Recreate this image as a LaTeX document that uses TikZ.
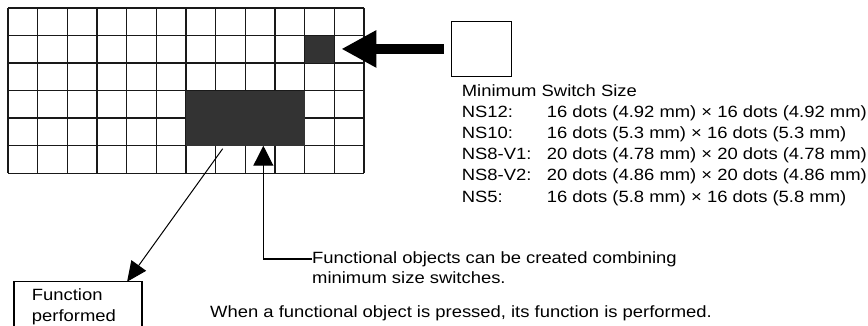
\documentclass[tikz,border=0pt]{standalone}
\usepackage{fontspec}
\setmainfont[FakeStretch=1.13]{Liberation Sans}
\usetikzlibrary{arrows.meta}

\begin{document}
\begin{tikzpicture}[x=1pt,y=-1pt,>=Latex,
  font=\fontsize{16.3pt}{21pt}\selectfont,
  gridline/.style={line width=1.4pt,black!90},
  cellfill/.style={fill=black!80,inner sep=0pt,outer sep=0pt,anchor=north west},
  txt/.style={anchor=base west,inner sep=0pt},
  boxline/.style={line width=1.5pt},
  thinline/.style={line width=1.2pt}]
  \useasboundingbox (0,0) rectangle (868,326);
  \clip (0,0) rectangle (868,326);
  \foreach \i in {0,...,12}
    \draw[gridline] ({8+\i*29.67},8) -- ({8+\i*29.67},173.3);
  \foreach \j in {0,...,6}
    \draw[gridline] (8,{8+\j*27.55}) -- (364.04,{8+\j*27.55});
  \node[cellfill,minimum width=29.67pt,minimum height=27.55pt] (cell) at (304.7,35.55) {};
  \node[cellfill,minimum width=118.68pt,minimum height=55.1pt] (funcobj) at (186.02,90.65) {};
  \node[draw,boxline,anchor=north west,minimum width=60pt,minimum height=55pt,inner sep=0pt] (minsw) at (450.7,20.7) {};
  \draw[line width=10pt,-{Triangle[length=35pt,width=35pt]},shorten <=7pt,shorten >=7pt] (minsw.west) -- (minsw.west -| cell.east);
  \node[txt] (title) at (461.7,97) {Minimum Switch Size};
  \foreach \nm/\val [count=\k] in {NS12:/16 dots (4.92 mm) × 16 dots (4.92 mm),
      NS10:/16 dots (5.3 mm) × 16 dots (5.3 mm),
      NS8-V1:/20 dots (4.78 mm) × 20 dots (4.78 mm),
      NS8-V2:/20 dots (4.86 mm) × 20 dots (4.86 mm),
      NS5:/16 dots (5.8 mm) × 16 dots (5.8 mm)} {
    \node[txt] (model\k) at (461.7,{97+21*\k}) {\nm};
    \node[txt] (size\k) at (546.7,{97+21*\k}) {\val};
  }
  \node[txt] (combine) at (312,263.3) {Functional objects can be created combining};
  \node[txt] (combine2) at (312,283.3) {minimum size switches.};
  \node[txt] (pressed) at (210,317.7) {When a functional object is pressed, its function is performed.};
  \node[anchor=north west,align=left,text width=92.3pt,inner xsep=17.7pt,inner ysep=7pt] (funcbox) at (14,281.7) {Function\\performed};
  \draw[boxline] (funcbox.north west) rectangle ([yshift=-30pt]funcbox.south east);
  \draw[thinline,-{Triangle[length=20pt,width=20pt]}] (combine.west) -| ([xshift=18pt]funcobj.south);
  \draw[line width=1pt,-{Triangle[length=20pt,width=18pt]}] ([xshift=-22.7pt,yshift=-3pt]funcobj.south) -- ([xshift=-15pt]funcbox.north east);
\end{tikzpicture}
\end{document}
